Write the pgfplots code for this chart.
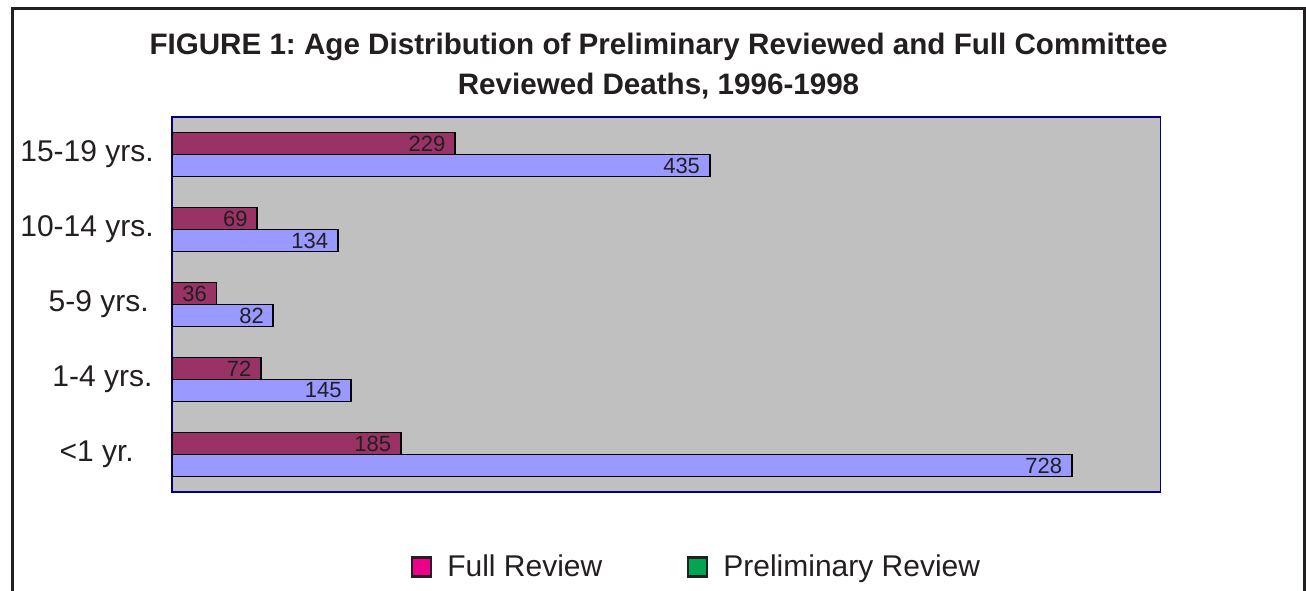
\documentclass[border=0pt]{standalone}
\usepackage{pgfplots}
\pgfplotsset{compat=1.18}
\usepackage{fontspec}
\setmainfont{Liberation Sans}
\frenchspacing

\definecolor{fullbar}{HTML}{993366}
\definecolor{prelbar}{HTML}{9999FF}
\definecolor{plotbg}{HTML}{C0C0C0}
\definecolor{frame}{HTML}{231F20}
\definecolor{legfull}{HTML}{EC008C}
\definecolor{legprel}{HTML}{00A651}

\begin{document}
\begin{tikzpicture}
% page is 1306 x 591 px, 1px = 0.75pt
\path[use as bounding box] (0pt,0pt) rectangle (979.5pt,443.25pt);
\draw[line width=2.25pt, frame] (9.4pt,0pt) -- (9.4pt,436.5pt) -- (978pt,436.5pt) -- (978pt,0pt);

\node[anchor=base, inner sep=0pt, text=frame, font=\fontsize{22.2}{28}\selectfont\bfseries]
  at (493.9pt,402pt) {FIGURE 1: Age Distribution of Preliminary Reviewed and Full Committee};
\node[anchor=base, inner sep=0pt, text=frame, font=\fontsize{22.2}{28}\selectfont\bfseries]
  at (493.9pt,372pt) {Reviewed Deaths, 1996-1998};

\begin{axis}[
    at={(129pt,74.25pt)}, anchor=south west,
    scale only axis,
    width=741.5pt, height=281.25pt,
    xbar,
    xmin=0, xmax=800,
    ymin=-0.5, ymax=4.5,
    xtick=\empty,
    ytick={0,1,2,3,4},
    yticklabels={{<1 yr.\kern15pt}, {1-4 yrs.\kern1pt}, {5-9 yrs.\kern3.75pt}, {10-14 yrs.}, {15-19 yrs.}},
    major tick length=0pt,
    yticklabel style={anchor=east, inner sep=0pt, xshift=-13.5pt, text=frame,
        font=\fontsize{22.5}{27}\selectfont},
    axis background/.style={fill=plotbg},
    axis line style={draw=blue!50!black, line width=0.9pt},
    bar width=16.5pt,
    point meta=x,
    nodes near coords,
    /pgf/number format/assume math mode=true,
    every node near coord/.append style={anchor=east, inner sep=0pt, xshift=-6.5pt,
        text=frame, font=\fontsize{16.5}{20}\selectfont},
    legend columns=2,
    legend style={at={(0.2417,-0.2)}, anchor=west, draw=none, fill=none,
        inner sep=0pt, font=\fontsize{22.5}{27}\selectfont, text=frame,
        nodes={inner sep=0pt},
        /tikz/every odd column/.append style={column sep=11.25pt},
        /tikz/every even column/.append style={column sep=63.75pt}},
]
\addplot[fill=fullbar, draw=black, line width=1.4pt, bar shift=8.25pt,
    legend image code/.code={\draw[fill=legfull, draw=frame, line width=1.6pt] (0.4pt,-7.1pt) rectangle (14.6pt,7.1pt);}]
    coordinates {(185,0) (72,1) (36,2) (69,3) (229,4)};
\addlegendentry{Full Review}
\addplot[fill=prelbar, draw=black, line width=1.4pt, bar shift=-8.25pt,
    legend image code/.code={\draw[fill=legprel, draw=frame, line width=1.6pt] (0.4pt,-7.1pt) rectangle (14.6pt,7.1pt);}]
    coordinates {(728,0) (145,1) (82,2) (134,3) (435,4)};
\addlegendentry{Preliminary Review}
\end{axis}
\end{tikzpicture}
\end{document}
